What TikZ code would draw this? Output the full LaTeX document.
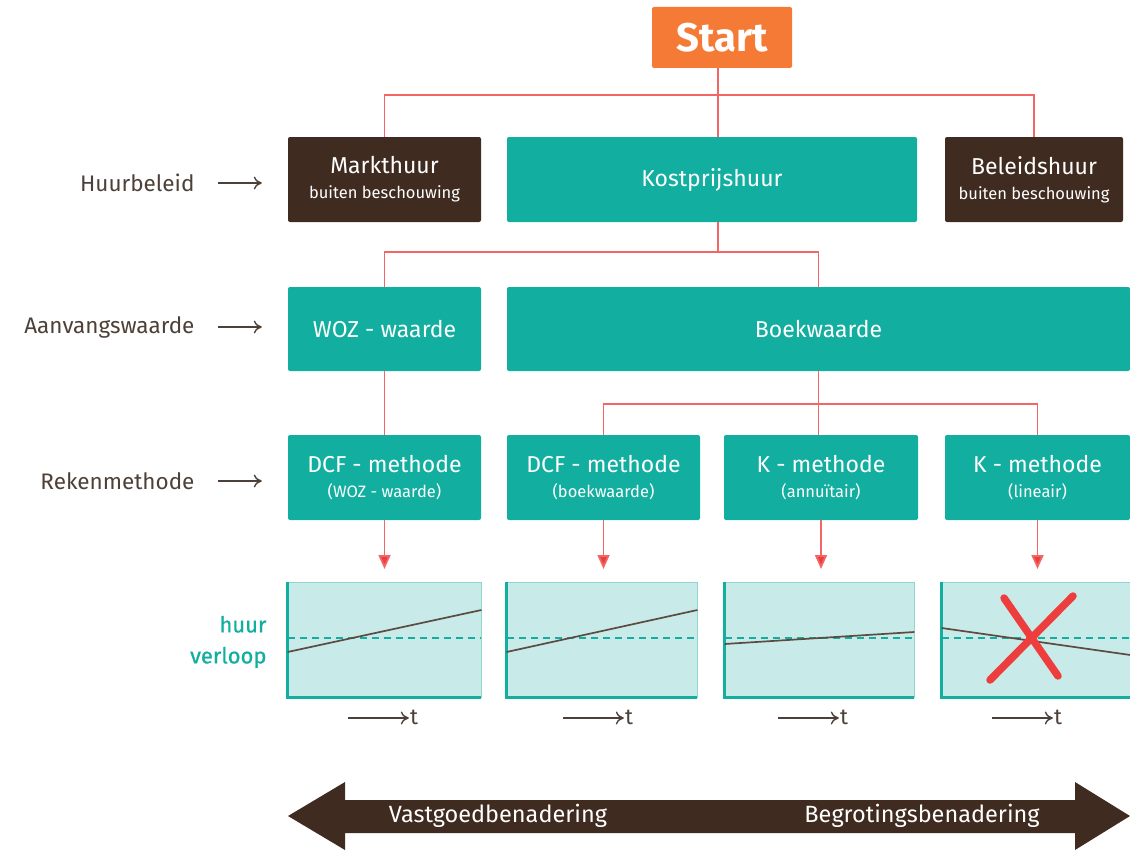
\documentclass[tikz,border=0pt]{standalone}
\usepackage{fontspec}
\setmainfont{Fira Sans}
\usetikzlibrary{calc,arrows.meta}

\definecolor{tealbox}{HTML}{12AE9F}
\definecolor{darkbrown}{HTML}{3F2B1F}
\definecolor{startorange}{HTML}{F57A35}
\definecolor{linkred}{HTML}{F26666}
\definecolor{tipred}{HTML}{EE3D3D}
\definecolor{chartfill}{HTML}{C8EAE9}
\definecolor{chartedge}{HTML}{8FD6CE}
\definecolor{labelgray}{HTML}{4D4038}

\begin{document}
\begin{tikzpicture}[
  x=1pt, y=-1pt,
  box/.style={
    fill=tealbox, text=white, rounded corners=2pt, inner sep=0pt,
    minimum height=85pt, align=center,
    font=\fontsize{23}{28}\selectfont
  },
  brownbox/.style={box, fill=darkbrown},
  link/.style={draw=linkred, line width=1.8pt},
  drop/.style={link, -{Triangle[width=12pt,length=14pt,fill=tipred]}},
  chart/.style={fill=chartfill, draw=chartedge, line width=0.8pt,
    minimum height=115pt, inner sep=0pt},
  axis/.style={draw=tealbox, line width=2.4pt},
  trend/.style={draw=darkbrown!85, line width=1.7pt},
  level/.style={draw=tealbox, line width=1.4pt, dash pattern=on 7pt off 5pt},
  side/.style={anchor=east, text=labelgray, font=\fontsize{22.5}{26}\selectfont},
  pointer/.style={draw=labelgray, line width=1.4pt, -{To[length=8pt,width=13pt]}},
  band/.style={text=white, font=\fontsize{23.5}{28}\selectfont}
]
\useasboundingbox (0,0) rectangle (1130,851);
\def\sub#1{\\[-3pt]{\fontsize{16.5}{19}\selectfont #1}}

% bovenste rij
\node[box, fill=startorange, minimum width=140pt, minimum height=61pt,
  font=\fontsize{40}{44}\bfseries] (start) at (722,37.5) {Start};
\node[brownbox, minimum width=193pt] (markt) at (384.5,179.5) {Markthuur\sub{buiten beschouwing}};
\node[box, minimum width=410pt] (kost) at (712,179.5) {Kostprijshuur};
\node[brownbox, minimum width=178pt] (beleid) at (1034,179.5) {Beleidshuur\sub{buiten beschouwing}};

% aanvangswaarde
\node[box, minimum width=193pt, minimum height=84pt] (woz) at (384.5,329) {WOZ - waarde};
\node[box, minimum width=623pt, minimum height=84pt] (boek) at (818.5,329) {Boekwaarde};

% rekenmethodes
\node[box, minimum width=193pt] (dcfa) at (384.5,477.5) {DCF - methode\sub{(WOZ - waarde)}};
\node[box, minimum width=193pt] (dcfb) at (603.5,477.5) {DCF - methode\sub{(boekwaarde)}};
\node[box, minimum width=194pt] (kann) at (821,477.5) {K - methode\sub{(annuïtair)}};
\node[box, minimum width=185pt] (klin) at (1037.5,477.5) {K - methode\sub{(lineair)}};

% huurverloop
\node[chart, minimum width=193pt] (ch1) at (384.5,639.5) {};
\node[chart, minimum width=190pt] (ch2) at (602,639.5) {};
\node[chart, minimum width=189pt] (ch3) at (819.5,639.5) {};
\node[chart, minimum width=188pt] (ch4) at (1036,639.5) {};

% verbindingen
\draw[link] ([xshift=-4pt]start.south) -- ([xshift=-4pt]start.south |- kost.north);
\draw[link] (markt.north) |- ($(start.south)+(0,27)$) -| (beleid.north);
\draw[link] ([xshift=6pt]kost.south) -- ++(0,30);
\draw[link] (woz.north) |- ($(kost.south)+(0,30)$) -| (boek.north);
\draw[link] (woz.south) -- (dcfa.north);
\draw[link] (boek.south) -- (boek.south |- kann.north);
\draw[link] (dcfb.north) |- ($(boek.south)+(0,33)$) -| (klin.north);
\foreach \m/\c in {dcfa/ch1, dcfb/ch2, kann/ch3, klin/ch4}
  \draw[drop] (\m.south) -- (\m.south |- 0,569);

\foreach \c/\l/\r/\tx in {ch1/652/610/414, ch2/652/610/629, ch3/644/632/844, ch4/628/655/1058}{
  \draw[axis] (\c.north west) -- (\c.south west) -- (\c.south east);
  \draw[level] (\c.west |- 0,638) -- (\c.east |- 0,638);
  \draw[trend] (\c.west |- 0,\l) -- (\c.east |- 0,\r);
  \node[text=labelgray, font=\fontsize{22}{26}\selectfont, inner sep=0pt] (t\c) at (\tx,717) {t};
  \draw[pointer] ($(t\c.west)+(-62,1)$) -- ($(t\c.west)+(-1,1)$);
}
\draw[tipred, line width=7.5pt, line cap=round] (990,680) -- (1073,596) (1004,598) -- (1058,676);

% labels links
\node[side] (hb) at (198,183) {Huurbeleid};
\node[side] (aw) at (198,327) {Aanvangswaarde};
\node[side] (rm) at (198,481) {Rekenmethode};
\draw[pointer] ($(hb.east)+(20,0)$) -- ($(markt.west |- hb.east)+(-26,0)$);
\draw[pointer] ($(aw.east)+(20,0)$) -- ($(woz.west |- aw.east)+(-26,0)$);
\draw[pointer] ($(rm.east)+(20,0)$) -- ($(dcfa.west |- rm.east)+(-26,0)$);
\node[side, text=tealbox, align=right,
  font=\fontsize{22}{31}\selectfont\addfontfeature{FakeBold=0.8}]
  (hv) at (270,642) {huur\\verloop};

% onderste pijl
\fill[darkbrown] (288,816) -- (345,782) -- (345,800) -- (1075,800) -- (1075,782)
  -- (1130,816) -- (1075,850) -- (1075,833) -- (345,833) -- (345,850) -- cycle;
\node[band] (vg) at (498,816) {Vastgoedbenadering};
\node[band] (bg) at (922,816) {Begrotingsbenadering};
\end{tikzpicture}
\end{document}
